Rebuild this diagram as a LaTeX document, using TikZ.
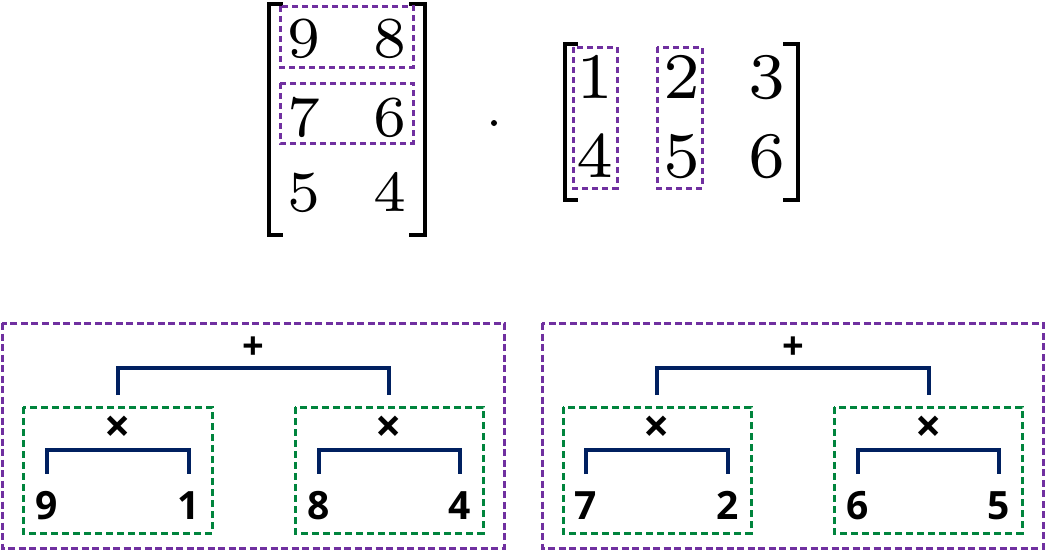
\documentclass[tikz,border=0pt]{standalone}
\usepackage{fontspec}
\newfontfamily\bfsans{Open Sans}[UprightFont=* Bold]
\newfontfamily\lmseven{lmroman7-regular.otf}
\usetikzlibrary{calc}
\definecolor{mpurple}{HTML}{7030A0}
\definecolor{mgreen}{HTML}{00843D}
\definecolor{mnavy}{HTML}{002060}
\tikzset{
  mdig/.style={anchor=base,inner sep=0pt,font=\lmseven\fontsize{58}{60}\selectfont},
  mdigb/.style={anchor=base,inner sep=0pt,font=\lmseven\fontsize{65}{68}\selectfont},
  bdig/.style={anchor=base,inner sep=0pt,font=\bfsans\fontsize{39}{40}\selectfont},
  opp/.style={inner sep=0pt,font=\bfsans\fontsize{38}{40}\selectfont},
  opx/.style={inner sep=0pt,font=\bfsans\fontsize{46}{48}\selectfont},
  brk/.style={line width=4.2pt,line join=miter},
  selbox/.style={draw=mpurple,line width=3pt,dash pattern=on 6pt off 4pt},
  pbox/.style={draw=mpurple,line width=3pt,dash pattern=on 7pt off 3.5pt},
  gbox/.style={draw=mgreen,line width=3pt,dash pattern=on 7pt off 4pt},
  conn/.style={draw=mnavy,line width=3.2pt,line join=miter},
}
\begin{document}
\begin{tikzpicture}[x=1pt,y=-1pt]
\useasboundingbox (0,0) rectangle (1045,550);
% ---------- matrix 1 ----------
\draw[brk] (283,4) -- (269,4) -- (269,235) -- (283,235);
\draw[brk] (409,4) -- (425,4) -- (425,235) -- (409,235);
\node[mdig] (a11) at (304,57) {9};
\node[mdig] (a12) at (390,57) {8};
\node[mdig] (a21) at (304,136) {7};
\node[mdig] (a22) at (390,136) {6};
\node[mdig] (a31) at (304,211) {5};
\node[mdig] (a32) at (390,211) {4};
\draw[selbox] (280,6) rectangle (413,67);
\draw[selbox] (280,83) rectangle (413,143);
% dot
\node[circle,fill=black,inner sep=0pt,minimum size=6pt] (dot) at (494,123) {};
% ---------- matrix 2 ----------
\draw[brk] (578,44) -- (565,44) -- (565,200) -- (578,200);
\draw[brk] (783,44) -- (798,44) -- (798,200) -- (783,200);
\node[mdigb] (b11) at (595,98) {1};
\node[mdigb] (b12) at (682,98) {2};
\node[mdigb] (b13) at (767,98) {3};
\node[mdigb] (b21) at (595,177) {4};
\node[mdigb] (b22) at (682,177) {5};
\node[mdigb] (b23) at (767,177) {6};
\draw[selbox] (573,47) rectangle (617,188);
\draw[selbox] (657,47) rectangle (702,188);
% ---------- bottom left panel ----------
\draw[pbox] (2,323) rectangle (504,548);
\draw[gbox] (23,407) rectangle (212,533);
\draw[gbox] (295,407) rectangle (483,533);
\node[opp] (p1) at (253,348) {+};
\node[opx] (x1) at (118,429) {×};
\node[opx] (x2) at (389,429) {×};
\node[bdig] (d9) at (47,519) {9};
\node[bdig] (d1) at (189,519) {1};
\node[bdig] (d8) at (319,519) {8};
\node[bdig] (d4) at (460,519) {4};
\draw[conn] ([yshift=17pt]d9.north) |- ([yshift=-21pt]x1.center) -| ([yshift=17pt]d1.north);
\draw[conn] ([yshift=17pt]d8.north) |- ([yshift=-21pt]x2.center) -| ([yshift=17pt]d4.north);
\draw[conn] ([yshift=34pt]x1.center) |- ([yshift=-20pt]p1.center) -| ([yshift=34pt]x2.center);
% ---------- bottom right panel ----------
\draw[pbox] (542,323) rectangle (1043,548);
\draw[gbox] (563,407) rectangle (751,533);
\draw[gbox] (834,407) rectangle (1022,533);
\node[opp] (p2) at (793,348) {+};
\node[opx] (x3) at (657,429) {×};
\node[opx] (x4) at (929,429) {×};
\node[bdig] (d7) at (586,519) {7};
\node[bdig] (d2) at (728,519) {2};
\node[bdig] (d6) at (858,519) {6};
\node[bdig] (d5) at (999,519) {5};
\draw[conn] ([yshift=17pt]d7.north) |- ([yshift=-21pt]x3.center) -| ([yshift=17pt]d2.north);
\draw[conn] ([yshift=17pt]d6.north) |- ([yshift=-21pt]x4.center) -| ([yshift=17pt]d5.north);
\draw[conn] ([yshift=34pt]x3.center) |- ([yshift=-20pt]p2.center) -| ([yshift=34pt]x4.center);
\end{tikzpicture}
\end{document}
